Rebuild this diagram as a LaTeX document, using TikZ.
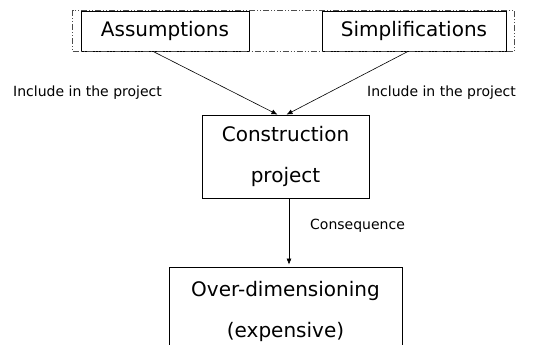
\documentclass[tikz,border=0pt]{standalone}
\usepackage{fontspec}
\setmainfont{DejaVu Sans}
\usetikzlibrary{positioning, arrows.meta, fit}

\begin{document}
\begin{tikzpicture}[
    x=1pt, y=-1pt,
    box/.style={
      draw, line width=0.8pt, inner sep=0pt, align=center,
      font=\fontsize{20}{41}\selectfont
    },
    note/.style={font=\fontsize{14}{16}\selectfont, inner sep=0pt},
    link/.style={-{Latex[length=6pt,width=5pt]}, line width=0.6pt},
]
    \clip (0,0) rectangle (536,345);

    \node[box, minimum width=168pt, minimum height=40pt] (assum) at (165,31)
      {Assumptions};
    \node[box, minimum width=184pt, minimum height=40pt] (simpl) at (414,31)
      {Simplifications};
    \node[box, minimum width=167pt, minimum height=83pt] (constr) at (285.5,156.5)
      {Construction\\project};
    \node[box, minimum width=233pt, minimum height=88pt] (overdim) at (285.5,311)
      {Over-dimensioning\\(expensive)};

    % Frame round the inputs
    \node[draw=black!70, line width=0.5pt, inner xsep=8pt, inner ysep=0pt,
          dash pattern=on 6pt off 2pt on 1pt off 2pt on 1pt off 2pt,
          fit=(assum)(simpl)] (inputs) {};

    % Arrows
    \draw[link] ([xshift=-12pt]assum.south) -- ([xshift=-8pt]constr.north);
    \draw[link] ([xshift=-6pt]simpl.south) -- ([xshift=1pt]constr.north);
    \draw[link] ([xshift=3.5pt]constr.south) -- ([xshift=3.5pt,yshift=2pt]overdim.north);

    % Labels
    \node[note, anchor=west] (inclleft) at (13,93) {Include in the project};
    \node[note, anchor=east] (inclright) at (516,93) {Include in the project};
    \node[note, anchor=west] (conseq) at (310,226) {Consequence};
\end{tikzpicture}
\end{document}
